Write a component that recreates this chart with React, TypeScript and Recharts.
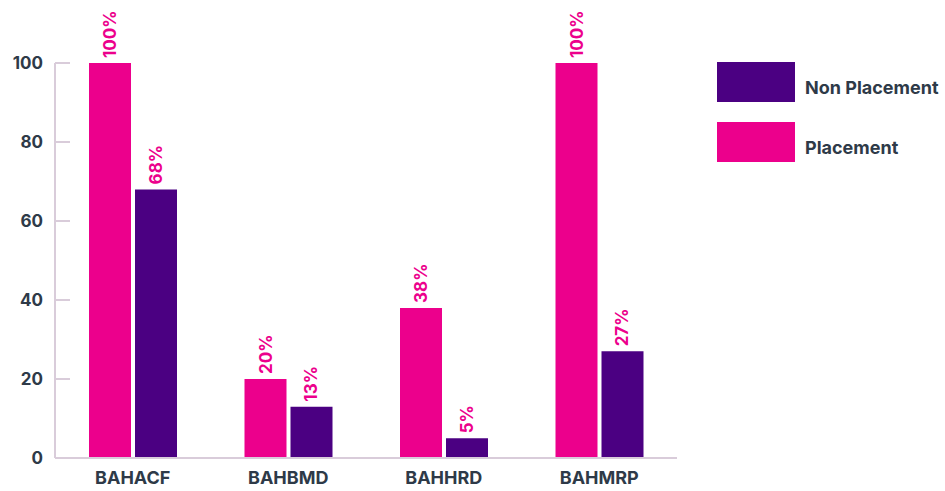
import { Bar, BarChart, XAxis, YAxis, LabelList } from 'recharts';

const categories = ['BAHACF', 'BAHBMD', 'BAHHRD', 'BAHMRP'];
const placement = [100, 20, 38, 100];
const nonPlacement = [68, 13, 5, 27];
const yTicks = [0, 20, 40, 60, 80, 100];

const PINK = '#EC008C';
const PURPLE = '#4B0082';
const TEXT = '#2E3A48';
const AXIS = '#D9CCDA';
const FONT = 'Inter, "Noto Sans", sans-serif';

const data = categories.map((name, i) => ({
  name,
  placement: placement[i],
  nonPlacement: nonPlacement[i]
}));

const YTick = ({ x, y, payload }: any) => (
  <g>
    <line x1={x + 12} x2={x + 27} y1={y} y2={y} stroke={AXIS} strokeWidth={2} />
    <text x={x} y={y} dy={6} textAnchor="end" fill={TEXT} fontSize={17} fontWeight={700} fontFamily={FONT}>
      {payload.value}
    </text>
  </g>
);

const ValueLabel = ({ x, y, width, value }: any) => {
  const cx = x + width / 2 + 6;
  const cy = y - 5;
  return (
    <text
      x={cx}
      y={cy}
      transform={`rotate(-90 ${cx} ${cy})`}
      textAnchor="start"
      fill={PINK}
      fontSize={17}
      fontWeight={700}
      fontFamily={FONT}
    >
      {`${value}%`}
    </text>
  );
};

const legendItems = [
  { label: 'Non Placement', color: PURPLE },
  { label: 'Placement', color: PINK }
];

export default function App() {
  return (
    <div style={{ position: 'absolute', left: 0, top: 0, width: 945, height: 491, background: '#fff' }}>
      <BarChart
        width={945}
        height={491}
        data={data}
        margin={{ top: 63, right: 268, bottom: 0, left: 0 }}
        barCategoryGap={34}
        barGap={4}
      >
        <XAxis
          dataKey="name"
          height={33}
          tickLine={false}
          tickSize={0}
          tickMargin={13}
          axisLine={{ stroke: AXIS, strokeWidth: 2 }}
          tick={{ fill: TEXT, fontSize: 18, fontWeight: 700, fontFamily: FONT }}
        />
        <YAxis
          width={55}
          domain={[0, 100]}
          ticks={yTicks}
          tickLine={false}
          tickSize={0}
          tickMargin={12}
          axisLine={{ stroke: AXIS, strokeWidth: 2 }}
          tick={<YTick />}
        />
        <Bar dataKey="placement" fill={PINK} isAnimationActive={false}>
          <LabelList dataKey="placement" content={<ValueLabel />} />
        </Bar>
        <Bar dataKey="nonPlacement" fill={PURPLE} isAnimationActive={false}>
          <LabelList dataKey="nonPlacement" content={<ValueLabel />} />
        </Bar>
      </BarChart>
      {legendItems.map((item, i) => (
        <div
          key={item.label}
          style={{ position: 'absolute', left: 717, top: 62 + i * 60, display: 'flex', alignItems: 'center' }}
        >
          <div style={{ width: 78, height: 40, background: item.color }} />
          <span
            style={{
              marginLeft: 10,
              marginTop: 10,
              color: TEXT,
              fontSize: 18,
              fontWeight: 700,
              fontFamily: FONT,
              whiteSpace: 'nowrap'
            }}
          >
            {item.label}
          </span>
        </div>
      ))}
    </div>
  );
}
